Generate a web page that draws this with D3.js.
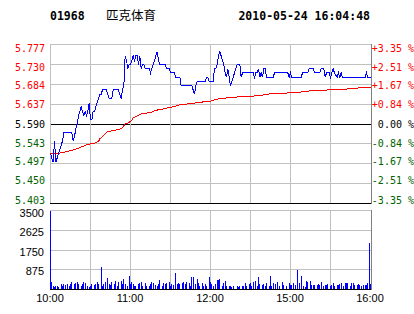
<!DOCTYPE html>
<html>
<head>
<meta charset="utf-8">
<script src="https://cdn.jsdelivr.net/npm/d3@7"></script>
<style>
body{margin:0;background:#fff}
svg{display:block}
</style>
</head>
<body>
<div id="chart"></div>
<script>
var stockCode = "01968", stockName = "匹克体育", stamp = "2010-05-24 16:04:48";
var prevClose = 5.590;

var priceLabels = ["5.777","5.730","5.684","5.637","5.590","5.543","5.497","5.450","5.403"];
var pctLabels = ["+3.35 %","+2.51 %","+1.67 %","+0.84 %"," 0.00 %","-0.84 %","-1.67 %","-2.51 %","-3.35 %"];
var volLabels = [3500, 2625, 1750, 875];
// minutes from open (trading time, lunch break removed)
var timeTicks = [0, 60, 120, 180, 240];
var timeLabels = ["10:00","11:00","12:00","15:00","16:00"];
var gridMinutes = [30, 60, 90, 120, 150, 180, 210];

// [minute, price]
var priceData = [[0,5.52],[1,5.51],[2,5.50],[3,5.55],[4,5.50],[5,5.51],[6,5.52],[7,5.53],[8,5.54],[9,5.55],
 [10,5.57],[16,5.57],[17,5.55],[18,5.56],[19,5.58],[20,5.59],[21,5.61],[22,5.62],[23,5.63],[24,5.62],
 [25,5.61],[26,5.62],[27,5.61],[28,5.62],[29,5.64],[30,5.60],[31,5.60],[32,5.62],[33,5.62],[34,5.63],
 [35,5.64],[37,5.66],[38,5.66],[39,5.67],[42,5.67],[43,5.66],[44,5.65],[46,5.65],[47,5.67],[51,5.67],
 [52,5.66],[53,5.65],[54,5.67],[55,5.68],[56,5.75],[57,5.74],[58,5.72],[59,5.73],[60,5.73],[61,5.74],
 [62,5.75],[63,5.74],[64,5.75],[65,5.75],[66,5.73],[67,5.75],[68,5.72],[69,5.73],[70,5.73],[71,5.72],
 [74,5.72],[75,5.71],[76,5.72],[77,5.73],[78,5.74],[79,5.75],[80,5.76],[81,5.74],[82,5.73],[86,5.73],
 [87,5.72],[89,5.72],[90,5.71],[93,5.71],[94,5.70],[97,5.70],[98,5.68],[106,5.68],[107,5.67],[108,5.66],
 [109,5.68],[110,5.69],[116,5.69],[117,5.70],[118,5.70],[119,5.69],[122,5.69],[123,5.72],[124,5.72],[125,5.73],
 [126,5.75],[127,5.76],[128,5.75],[129,5.74],[130,5.73],[131,5.71],[132,5.70],[133,5.72],[134,5.70],[135,5.68],
 [136,5.69],[137,5.70],[138,5.71],[139,5.72],[140,5.73],[142,5.73],[143,5.70],[144,5.71],[152,5.71],[153,5.70],
 [154,5.71],[155,5.71],[156,5.72],[157,5.70],[158,5.71],[159,5.70],[160,5.72],[161,5.72],[162,5.70],[167,5.70],
 [168,5.71],[178,5.71],[179,5.70],[180,5.71],[181,5.70],[188,5.70],[189,5.71],[193,5.71],[194,5.72],[197,5.72],
 [198,5.71],[202,5.71],[203,5.72],[205,5.72],[206,5.70],[207,5.71],[209,5.71],[210,5.70],[211,5.71],[212,5.72],
 [213,5.71],[215,5.70],[216,5.71],[217,5.70],[218,5.71],[219,5.70],[236,5.70],[237,5.71],[238,5.70],[240,5.70]];

// [minute, average price]
var avgData = [[0,5.520],[8,5.522],[11,5.524],[16,5.528],[21,5.533],[23,5.536],[28,5.542],[33,5.545],[36,5.549],
 [37,5.555],[40,5.563],[42,5.571],[46,5.574],[51,5.577],[54,5.581],[56,5.591],[58,5.592],[61,5.598],[62,5.605],
 [66,5.610],[68,5.614],[73,5.616],[77,5.619],[78,5.622],[83,5.624],[88,5.628],[93,5.631],[97,5.635],[105,5.638],
 [112,5.641],[120,5.644],[127,5.650],[135,5.652],[142,5.654],[150,5.655],[157,5.657],[165,5.661],[172,5.661],
 [180,5.664],[187,5.665],[195,5.668],[202,5.668],[210,5.671],[217,5.671],[225,5.673],[232,5.675],[240,5.677]];

// [minute, volume]
var volData = [[0,3500],[1,325],[2,150],[3,100],[4,150],[5,150],[6,100],[8,220],[9,150],[10,220],[11,175],[13,220],
 [14,150],[15,220],[16,300],[18,220],[19,250],[20,325],[21,220],[23,150],[24,220],[25,295],[26,250],[28,150],
 [29,100],[30,150],[31,220],[33,175],[34,220],[35,295],[36,220],[38,960],[39,150],[40,220],[41,330],[43,490],
 [44,220],[45,175],[46,295],[48,220],[49,370],[50,150],[51,330],[53,370],[54,220],[55,440],[56,220],[58,150],
 [59,590],[60,220],[61,295],[62,220],[63,150],[64,120],[66,220],[67,250],[68,295],[69,150],[71,250],[72,150],
 [74,150],[75,220],[76,295],[77,250],[79,175],[80,150],[81,220],[82,415],[84,150],[85,250],[86,220],[87,250],
 [89,295],[90,150],[91,220],[92,175],[94,695],[95,220],[96,250],[97,220],[99,250],[100,295],[101,220],[102,330],
 [104,250],[105,150],[106,545],[107,545],[109,220],[110,440],[111,250],[112,150],[114,250],[115,150],[116,220],
 [117,150],[119,545],[120,295],[121,220],[122,150],[124,220],[125,400],[126,400],[127,440],[129,150],[130,250],
 [131,370],[132,150],[134,150],[135,150],[136,100],[137,150],[140,150],[141,100],[142,150],[144,150],[145,150],
 [146,250],[147,150],[149,220],[150,250],[151,150],[152,295],[154,370],[155,150],[156,515],[157,220],[159,175],
 [160,220],[161,150],[162,250],[164,150],[165,590],[166,150],[167,250],[169,220],[170,295],[172,150],[174,295],
 [175,190],[177,150],[179,250],[180,190],[181,190],[182,250],[184,190],[185,855],[187,250],[188,590],[190,150],
 [191,100],[192,370],[193,295],[195,370],[196,190],[197,190],[198,190],[200,190],[201,220],[202,190],[203,330],
 [205,150],[206,190],[207,190],[208,220],[210,150],[211,190],[212,265],[213,150],[215,190],[216,190],[217,220],
 [218,265],[220,150],[221,265],[222,265],[223,265],[225,150],[226,265],[227,250],[228,190],[230,190],[231,220],
 [232,190],[233,150],[235,190],[236,190],[237,190],[238,250],[239,2020],[240,220]];

var W = 414, H = 314;
var left = 50, right = 371;
var green = "#006400", gridColor = "#c0c0c0";
var mono = "'DejaVu Sans Mono', monospace";
var sans = "'Liberation Sans', Arial, sans-serif";

var svg = d3.select('#chart').append('svg')
  .attr('width', W).attr('height', H);

var x = d3.scaleLinear().domain([0, 240]).range([left, 370]);
var y = d3.scaleLinear().domain([5.403, 5.777]).range([203, 44]);
var vy = d3.scaleLinear().domain([0, 3500]).range([289, 210]);
// label rows are spread a little tighter than the grid rows
var labelY = d3.scaleLinear().domain([5.403, 5.777]).range([200, 48]);
var volLabelY = d3.scaleLinear().domain([875, 3500]).range([271, 213]);

// header
svg.append('text').attr('x', 50).attr('y', 20).text(stockCode)
  .style('font-family', mono).style('font-weight', 'bold').style('font-size', '11.5px');
svg.append('text').attr('x', 106).attr('y', 20).text(stockName)
  .style('font-family', "'Noto Sans CJK SC', sans-serif").style('font-size', '12.5px');
svg.append('text').attr('x', 370).attr('y', 20).attr('text-anchor', 'end').text(stamp)
  .style('font-family', mono).style('font-weight', 'bold').style('font-size', '11.5px');

var grid = svg.append('g').attr('shape-rendering', 'crispEdges');

// price panel grid
priceLabels.forEach(function(l, i){
  var p = parseFloat(l);
  var c = (i == 4 || i == 8) ? '#000' : gridColor;
  grid.append('line').attr('x1', left).attr('x2', right)
    .attr('y1', Math.round(y(p)) + 0.5).attr('y2', Math.round(y(p)) + 0.5)
    .attr('stroke', c);
});
gridMinutes.forEach(function(m){
  var xx = Math.round(x(m)) + 0.5;
  grid.append('line').attr('x1', xx).attr('x2', xx).attr('y1', 44).attr('y2', 203)
    .attr('stroke', gridColor);
  grid.append('line').attr('x1', xx).attr('x2', xx).attr('y1', 210).attr('y2', 289)
    .attr('stroke', gridColor);
});
grid.append('line').attr('x1', left + 0.5).attr('x2', left + 0.5).attr('y1', 44).attr('y2', 203).attr('stroke', gridColor);
grid.append('line').attr('x1', left + 0.5).attr('x2', left + 0.5).attr('y1', 210).attr('y2', 289).attr('stroke', gridColor);

// volume panel grid
volLabels.forEach(function(v){
  var yy = Math.round(vy(v)) + 0.5;
  grid.append('line').attr('x1', left).attr('x2', right).attr('y1', yy).attr('y2', yy)
    .attr('stroke', gridColor);
});

// left labels
svg.selectAll('text.pl').data(priceLabels).enter().append('text')
  .attr('class', 'pl')
  .attr('x', 45).attr('y', function(d){ return labelY(parseFloat(d)) + 3.6; })
  .attr('text-anchor', 'end')
  .style('font-family', mono).style('font-size', '10px')
  .style('fill', function(d){
    var p = parseFloat(d);
    return p > prevClose ? '#ff0000' : (p < prevClose ? green : '#000');
  })
  .text(function(d){ return d; });

// right labels
svg.selectAll('text.pr').data(pctLabels).enter().append('text')
  .attr('class', 'pr')
  .attr('x', 414).attr('y', function(d, i){ return labelY(parseFloat(priceLabels[i])) + 3.6; })
  .attr('text-anchor', 'end')
  .attr('xml:space', 'preserve')
  .style('white-space', 'pre')
  .style('font-family', mono).style('font-size', '10px')
  .style('fill', function(d, i){ return i < 4 ? '#ff0000' : (i > 4 ? green : '#000'); })
  .text(function(d){ return d; });

// volume labels
svg.selectAll('text.vl').data(volLabels).enter().append('text')
  .attr('class', 'vl')
  .attr('x', 44).attr('y', function(d){ return volLabelY(d) + 4; })
  .attr('text-anchor', 'end')
  .style('font-family', sans).style('font-size', '11px')
  .text(function(d){ return d; });

// time labels
svg.selectAll('text.tl').data(timeTicks).enter().append('text')
  .attr('class', 'tl')
  .attr('x', function(d){ return x(d); }).attr('y', 302)
  .attr('text-anchor', 'middle')
  .style('font-family', sans).style('font-size', '11px')
  .text(function(d, i){ return timeLabels[i]; });

// volume bars
svg.append('g').attr('shape-rendering', 'crispEdges')
  .selectAll('rect').data(volData).enter().append('rect')
  .attr('x', function(d){ return Math.round(x(d[0])); })
  .attr('width', 1)
  .attr('y', function(d){ return Math.round(vy(d[1])); })
  .attr('height', function(d){ return 289 - Math.round(vy(d[1])); })
  .style('fill', '#0000ff');

// lines
var line = d3.line()
  .x(function(d){ return x(d[0]) + 0.5; })
  .y(function(d){ return y(d[1]) + 0.5; });

svg.append('path').datum(avgData).attr('d', line)
  .attr('fill', 'none').attr('stroke', '#ff0000').attr('stroke-width', 1)
  .attr('shape-rendering', 'crispEdges');
svg.append('path').datum(priceData).attr('d', line)
  .attr('fill', 'none').attr('stroke', '#0000ff').attr('stroke-width', 1)
  .attr('shape-rendering', 'crispEdges');

// borders and base lines
var frame = svg.append('g').attr('shape-rendering', 'crispEdges');
frame.append('line').attr('x1', left).attr('x2', right).attr('y1', 44.5).attr('y2', 44.5).attr('stroke', gridColor);
frame.append('line').attr('x1', left).attr('x2', right).attr('y1', 210.5).attr('y2', 210.5).attr('stroke', gridColor);
frame.append('line').attr('x1', left).attr('x2', right).attr('y1', 289.5).attr('y2', 289.5).attr('stroke', '#000');
frame.append('line').attr('x1', right + 0.5).attr('x2', right + 0.5).attr('y1', 44).attr('y2', 204).attr('stroke', '#808080');
frame.append('line').attr('x1', right + 0.5).attr('x2', right + 0.5).attr('y1', 210).attr('y2', 290).attr('stroke', '#808080');
</script>
</body>
</html>
